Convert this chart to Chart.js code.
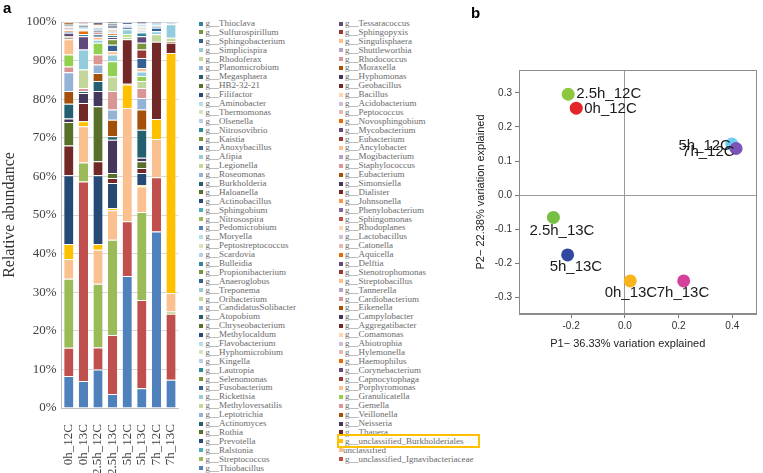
<!DOCTYPE html>
<html>
<head>
<meta charset="utf-8">
<script src="https://cdn.jsdelivr.net/npm/chart.js@4.4.1/dist/chart.umd.min.js"></script>
<style>
  html, body { margin: 0; padding: 0; background: #fff; }
  #page { position: relative; width: 763px; height: 473px; overflow: hidden; }
  canvas { position: absolute; top: 0; }
  #bars { left: 0; width: 195px; height: 473px; }
  #pca { left: 470px; width: 293px; height: 473px; }
  .panel { position: absolute; font: bold 15px 'Liberation Sans', Arial, sans-serif; line-height: 15px; color: #000; }
  .item { position: absolute; height: 9px; font: 9px 'Liberation Serif', 'Times New Roman', serif; line-height: 9px; color: #6a6a6a; white-space: nowrap; }
  .sq { position: absolute; width: 4px; height: 4px; }
  #mark { position: absolute; left: 337px; top: 433.5px; width: 143px; height: 14px; border: 2px solid #FFC000; box-sizing: border-box; }
</style>
</head>
<body>
<div id="page">
  <canvas id="bars" width="195" height="473"></canvas>
  <div id="legend"></div>
  <div id="mark"></div>
  <canvas id="pca" width="293" height="473"></canvas>
  <div class="panel" style="left:3px;top:0px">a</div>
  <div class="panel" style="left:471px;top:5px">b</div>
</div>
<script>
// ---- panel a: relative abundance of genera ----

const sampleLabels = ['0h_12C', '0h_13C', '2.5h_12C', '2.5h_13C', '5h_12C', '5h_13C', '7h_12C', '7h_13C'];

// genera in stacking order (bottom of the bars first)
const taxa = [
    'g__Thiobacillus', 'g__unclassified_Ignavibacteriaceae', 'g__Streptococcus', 'unclassified',
    'g__Ralstonia', 'g__unclassified_Burkholderiales', 'g__Prevotella', 'g__Thauera',
    'g__Rothia', 'g__Neisseria', 'g__Actinomyces', 'g__Veillonella',
    'g__Leptotrichia', 'g__Gemella', 'g__Methyloversatilis', 'g__Granulicatella',
    'g__Rickettsia', 'g__Porphyromonas', 'g__Fusobacterium', 'g__Capnocytophaga',
    'g__Selenomonas', 'g__Corynebacterium', 'g__Lautropia', 'g__Haemophilus',
    'g__Kingella', 'g__Hylemonella', 'g__Hyphomicrobium', 'g__Abiotrophia',
    'g__Flavobacterium', 'g__Comamonas', 'g__Methylocaldum', 'g__Aggregatibacter',
    'g__Chryseobacterium', 'g__Campylobacter', 'g__Atopobium', 'g__Eikenella',
    'g__CandidatusSolibacter', 'g__Cardiobacterium', 'g__Oribacterium', 'g__Tannerella',
    'g__Treponema', 'g__Streptobacillus', 'g__Anaeroglobus', 'g__Stenotrophomonas',
    'g__Propionibacterium', 'g__Delftia', 'g__Bulleidia', 'g__Aquicella',
    'g__Scardovia', 'g__Catonella', 'g__Peptostreptococcus', 'g__Lactobacillus',
    'g__Moryella', 'g__Rhodoplanes', 'g__Pedomicrobium', 'g__Sphingomonas',
    'g__Nitrosospira', 'g__Phenylobacterium', 'g__Sphingobium', 'g__Johnsonella',
    'g__Actinobacillus', 'g__Dialister', 'g__Haloanella', 'g__Simonsiella',
    'g__Burkholderia', 'g__Eubacterium', 'g__Roseomonas', 'g__Staphylococcus',
    'g__Legionella', 'g__Mogibacterium', 'g__Afipia', 'g__Ancylobacter',
    'g__Anoxybacillus', 'g__Eubacterium', 'g__Kaistia', 'g__Mycobacterium',
    'g__Nitrosovibrio', 'g__Novosphingobium', 'g__Olsenella', 'g__Peptococcus',
    'g__Thermomonas', 'g__Acidobacterium', 'g__Aminobacter', 'g__Bacillus',
    'g__Filifactor', 'g__Geobacillus', 'g__HB2-32-21', 'g__Hyphomonas',
    'g__Megasphaera', 'g__Moraxella', 'g__Planomicrobium', 'g__Rhodococcus',
    'g__Rhodoferax', 'g__Shuttleworthia', 'g__Simplicispira', 'g__Singulisphaera',
    'g__Sphingobacterium', 'g__Sphingopyxis', 'g__Sulfurospirillum', 'g__Tessaracoccus',
    'g__Thioclava'
];

// abundance (%) per sample, same order as taxa; genera not listed are 0
const ab0h12C  = [8.3, 7.3, 17.9, 5.1, 0, 3.9, 17.8, 7.7, 6.1, 0.9, 3.8, 3.3, 4.9, 1.5, 0, 3.1, 0, 3.9, 0, 0.5,
                  0.4, 0.8, 0.3, 0.4, 0.3, 0.3, 0, 0.2, 0, 0.3, 0.3, 0, 0.2, 0, 0, 0.3, 0, 0.2];
const ab0h13C  = [7.0, 51.7, 4.9, 9.4, 0, 1.3, 0, 4.7, 0, 2.6, 0.5, 0, 0, 0.8, 4.8, 0, 5.2, 0, 0, 0,
                  0, 3.4, 0.6, 0.9, 0, 0.3, 0, 0, 0.5, 0, 0.5, 0, 0.3, 0, 0.3, 0, 0, 0.3];
const ab2h12C  = [10.0, 5.7, 16.5, 8.8, 0, 1.5, 17.8, 3.6, 14.3, 3.9, 2.6, 2.1, 2.2, 2.6, 0, 3.0, 0.8, 0.8, 0.6, 0.5,
                  0, 0.5, 0.4, 0, 0.4, 0, 0.3, 0, 0.3, 0, 0, 0.3, 0, 0.3, 0, 0, 0.2];
const ab2h13C  = [3.6, 15.3, 24.7, 7.6, 0, 0.6, 6.5, 1.3, 1.3, 8.6, 0.9, 4.3, 2.6, 4.8, 3.8, 3.9, 1.8, 0.8, 1.7, 0,
                  1.4, 0.6, 0.5, 0.5, 0.3, 0.3, 0.4, 0.3, 0, 0, 0.4, 0, 0, 0.4, 0.3, 0, 0, 0, 0.2, 0,
                  0, 0, 0.3];
const ab5h12C  = [34.2, 14.2, 0, 29.3, 0, 6.1, 0.2, 11.5, 0, 0, 0, 0, 0, 0, 0.7, 0.6, 1.3, 0, 0.5, 0,
                  0, 0, 0.2, 0, 0.3, 0, 0, 0, 0.4, 0, 0.3, 0, 0, 0, 0, 0, 0.2];
const ab5h13C  = [5.1, 22.9, 22.8, 6.6, 0, 0.4, 3.1, 1.3, 1.7, 0.9, 7.3, 5.2, 3.0, 2.6, 1.8, 1.3, 1.2, 0.9, 2.6, 2.2,
                  1.7, 1.7, 1.0, 0, 0.5, 0.4, 0.4, 0.3, 0.5, 0, 0.3, 0, 0, 0.3];
const ab7h12C  = [45.7, 14.1, 0, 9.9, 0, 5.2, 0, 20.0, 0, 0, 0, 0, 0, 0, 1.9, 0, 0.8, 0, 0.9, 0,
                  0, 0, 0.3, 0, 0.4, 0, 0, 0, 0.4, 0, 0.4];
const ab7h13C  = [7.3, 17.1, 0.6, 4.8, 0, 62.2, 0, 2.6, 0, 0, 0, 0.4, 0, 0, 0.9, 0, 3.5, 0, 0.3, 0,
                  0, 0, 0, 0, 0.3];

const sampleValues = [ab0h12C, ab0h13C, ab2h12C, ab2h13C, ab5h12C, ab5h13C, ab7h12C, ab7h13C];

// ---- panel b: PCA ----
const pcaSamples = ['0h_12C', '0h_13C', '2.5h_12C', '2.5h_13C', '5h_12C', '5h_13C', '7h_12C', '7h_13C'];
const pc1 = [-0.181, 0.020, -0.211, -0.266, 0.398, -0.213, 0.414, 0.219];
const pc2 = [0.255, -0.251, 0.296, -0.065, 0.150, -0.175, 0.137, -0.251];

// ---- styling ----
const SERIF = "'Liberation Serif', 'Times New Roman', serif";
const SANS = "'Liberation Sans', Arial, sans-serif";

// Office theme colours and their shades, cycled like a spreadsheet does
const BASE    = ['#4F81BD', '#C0504D', '#9BBB59', '#8064A2', '#4BACC6', '#F79646'];
const DARK50  = ['#264A76', '#722826', '#58702C', '#45375C', '#235F70', '#A2500A'];
const LIGHT40 = ['#95B3D7', '#D99694', '#C3D69B', '#B3A2C7', '#93CDDD', '#FAC090'];
const DARK25  = ['#376092', '#953735', '#77933C', '#604A7B', '#31859C', '#E46C0A'];
const LIGHT60 = ['#B9CDE5', '#E6B9B8', '#D7E4BD', '#CCC1DA', '#B7DEE8', '#FCD5B5'];
const SHADES = [BASE, DARK50, LIGHT40, DARK25, LIGHT60, DARK50, LIGHT40, DARK25, LIGHT60];
const OVERRIDE = { 4: '#FAC090', 6: '#FFC000', 16: '#92D050' };

function seriesColor(n) {
    if (OVERRIDE[n]) return OVERRIDE[n];
    const group = Math.floor((n - 1) / 6) % SHADES.length;
    return SHADES[group][(n - 1) % 6];
}

const pointColors = ['#E3262B', '#F9B41C', '#8DC63F', '#76BF43', '#6DCEF2', '#3148A0', '#7B53B9', '#D5409A'];
// label offset from its point: [dx to text start, dy to text middle]
const labelOffsets = [[8, 1], [-25.6, 12], [8, 0], [-24, 13], [-53.4, 2], [-18, 12], [-54, 3], [-27, 12]];

// Build the stacked bar chart
function createAbundanceChart() {
    const datasets = taxa.map((name, i) => ({
        label: name,
        data: sampleValues.map(vals => vals[i] || 0),
        backgroundColor: seriesColor(i + 1),
        borderColor: 'rgba(255, 255, 255, 0.55)',
        borderWidth: { top: 1, right: 0, bottom: 0, left: 0 },
        borderSkipped: 'start',
        barPercentage: 0.63,
        categoryPercentage: 1
    }));

    new Chart(document.getElementById('bars'), {
        type: 'bar',
        data: { labels: sampleLabels, datasets: datasets },
        options: {
            responsive: false,
            animation: false,
            layout: { padding: { top: 22, right: 6, left: 0, bottom: 0 } },
            plugins: { legend: { display: false }, tooltip: { enabled: false } },
            scales: {
                x: {
                    stacked: true,
                    grid: { display: false },
                    border: { color: '#bfbfbf' },
                    ticks: {
                        autoSkip: false,
                        minRotation: 90,
                        maxRotation: 90,
                        padding: 8,
                        color: '#404040',
                        font: { family: SERIF, size: 13 }
                    },
                    afterFit: scale => { scale.height = 65; }
                },
                y: {
                    stacked: true,
                    min: 0,
                    max: 100,
                    grid: { color: '#d9d9d9', drawTicks: false },
                    border: { color: '#bfbfbf' },
                    ticks: {
                        stepSize: 10,
                        padding: 5,
                        color: '#404040',
                        font: { family: SERIF, size: 13 },
                        callback: v => v + '%'
                    },
                    title: {
                        display: true,
                        text: 'Relative abundance',
                        color: '#333',
                        padding: 0,
                        font: { family: SERIF, size: 16 }
                    },
                    afterFit: scale => { scale.width = 61.5; }
                }
            }
        }
    });
}

// Legend: reversed series, filled row by row into two columns
function buildLegend() {
    const legend = document.getElementById('legend');
    const ordered = taxa.map((name, i) => ({ name, n: i + 1 })).reverse();
    ordered.forEach((t, k) => {
        const row = Math.floor(k / 2);
        const col = k % 2;
        const y = 23.5 + row * 8.89;
        const sq = document.createElement('div');
        sq.className = 'sq';
        sq.style.left = (col ? 339 : 199) + 'px';
        sq.style.top = (y - 2) + 'px';
        sq.style.background = seriesColor(t.n);
        legend.appendChild(sq);

        const item = document.createElement('div');
        item.className = 'item';
        const textX = col ? 345 : 205.5;
        item.style.left = (t.name.startsWith('g__') ? textX : textX - 2) + 'px';
        item.style.top = (y - 4.5) + 'px';
        item.textContent = t.name;
        legend.appendChild(item);
    });
}

// Box around the plot area and the P1 axis title below the tick labels
const framePlugin = {
    id: 'frame',
    afterDraw(chart) {
        const { ctx, chartArea: a } = chart;
        ctx.save();
        ctx.strokeStyle = '#8c8c8c';
        ctx.lineWidth = 1;
        ctx.strokeRect(Math.round(a.left) + 0.5, Math.round(a.top) + 0.5,
            Math.round(a.right - a.left) - 1, Math.round(a.bottom - a.top) - 1);

        ctx.font = '11px ' + SANS;
        ctx.fillStyle = '#222';
        ctx.textAlign = 'center';
        ctx.textBaseline = 'middle';
        ctx.fillText('P1\u2212 36.33% variation explained', (a.left + a.right) / 2 - 10, a.bottom + 30);
        ctx.restore();
    }
};

// Sample names next to the points
const pointLabelPlugin = {
    id: 'pointLabels',
    afterDatasetsDraw(chart) {
        const { ctx } = chart;
        const meta = chart.getDatasetMeta(0);
        ctx.save();
        ctx.font = '15px ' + SANS;
        ctx.fillStyle = '#1a1a1a';
        ctx.textAlign = 'left';
        ctx.textBaseline = 'middle';
        meta.data.forEach((pt, i) => {
            const [dx, dy] = labelOffsets[i];
            ctx.fillText(pcaSamples[i], pt.x + dx, pt.y + dy);
        });
        ctx.restore();
    }
};

function zeroLine(ctx) {
    return ctx.tick && Math.abs(ctx.tick.value) < 1e-9 ? '#9a9a9a' : 'rgba(0,0,0,0)';
}

// Build the PCA scatter plot
function createPcaChart() {
    new Chart(document.getElementById('pca'), {
        type: 'scatter',
        data: {
            datasets: [{
                data: pc1.map((x, i) => ({ x: x, y: pc2[i] })),
                pointBackgroundColor: pointColors,
                pointBorderWidth: 0,
                pointRadius: 6.5
            }]
        },
        options: {
            responsive: false,
            animation: false,
            layout: { padding: { top: 70, right: 2, left: 0, bottom: 124 } },
            plugins: { legend: { display: false }, tooltip: { enabled: false } },
            scales: {
                x: {
                    type: 'linear',
                    min: -0.394,
                    max: 0.49,
                    grid: { color: zeroLine, tickColor: '#777', tickLength: 4 },
                    border: { color: '#8c8c8c' },
                    ticks: {
                        stepSize: 0.2,
                        includeBounds: false,
                        padding: 2,
                        color: '#333',
                        font: { family: SANS, size: 10 },
                        callback: v => v.toFixed(1)
                    },
                    afterFit: scale => { scale.height = 35; }
                },
                y: {
                    type: 'linear',
                    min: -0.348,
                    max: 0.367,
                    grid: { color: zeroLine, tickColor: '#777', tickLength: 4 },
                    border: { color: '#8c8c8c' },
                    ticks: {
                        stepSize: 0.1,
                        includeBounds: false,
                        padding: 3,
                        color: '#333',
                        font: { family: SANS, size: 10 },
                        callback: v => v.toFixed(1)
                    },
                    title: {
                        display: true,
                        text: 'P2\u2212 22.38% variation explained',
                        color: '#222',
                        padding: { top: 4, bottom: 0 },
                        font: { family: SANS, size: 11 }
                    },
                    afterFit: scale => { scale.width = 49; }
                }
            }
        },
        plugins: [framePlugin, pointLabelPlugin]
    });
}

createAbundanceChart();
buildLegend();
createPcaChart();
</script>
</body>
</html>
